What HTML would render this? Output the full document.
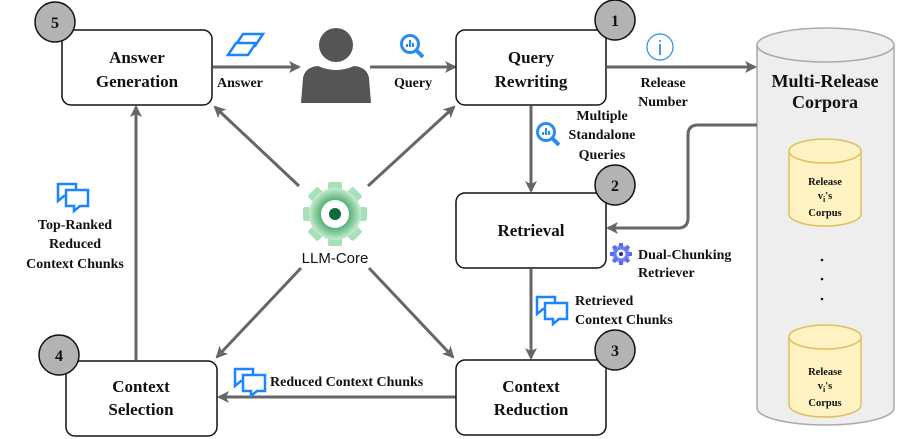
<!DOCTYPE html>
<html><head><meta charset="utf-8"><style>
html,body{margin:0;padding:0;background:#fff;}
svg{display:block;}
.b{font-family:"Liberation Serif",serif;font-weight:bold;fill:#111;}
</style></head><body>
<svg width="897" height="439" viewBox="0 0 897 439" xmlns="http://www.w3.org/2000/svg">
<defs>
<marker id="ah" markerWidth="12" markerHeight="12" refX="10" refY="6" orient="auto" markerUnits="userSpaceOnUse">
<path d="M0,0 L12,6 L0,12 L3,6 Z" fill="#666"/>
</marker>
<radialGradient id="gg" cx="50%" cy="50%" r="50%">
<stop offset="0.45" stop-color="#3fa665"/><stop offset="1" stop-color="#c8ecd3"/>
</radialGradient>
<radialGradient id="bg" cx="50%" cy="50%" r="50%">
<stop offset="0.4" stop-color="#3a4ee0"/><stop offset="1" stop-color="#b8c4ff"/>
</radialGradient>
<g id="chat" fill="none" stroke="#1a85ff" stroke-width="2.5">
<path d="M1,1 H19 V13 H7 L1,18 Z"/>
<path d="M9,7 H31 V23 H23 L17,28 V23 H9 Z" fill="#fff"/>
</g>
<g id="mag" fill="none" stroke="#2a8cf0" stroke-width="3">
<circle cx="10" cy="10" r="8.5"/><line x1="16" y1="16" x2="23" y2="23" stroke-width="4"/>
<line x1="7" y1="13" x2="7" y2="10" stroke-width="2"/><line x1="10" y1="13" x2="10" y2="6" stroke-width="2"/><line x1="13" y1="13" x2="13" y2="9" stroke-width="2"/>
</g>
</defs>

<!-- cylinder -->
<path d="M757,45 V408 A68.5,17 0 0 0 894,408 V45" fill="#eee" stroke="#aaa" stroke-width="1.5"/>
<ellipse cx="825.5" cy="45" rx="68.5" ry="17" fill="#eee" stroke="#aaa" stroke-width="1.5"/>
<text class="b" x="825" y="87" font-size="18" text-anchor="middle">Multi-Release</text>
<text class="b" x="825" y="108" font-size="18" text-anchor="middle">Corpora</text>
<g>
<path d="M789,151 V214 A36,12 0 0 0 861,214 V151" fill="#fff3c4" stroke="#e0bf5e" stroke-width="1.5"/>
<ellipse cx="825" cy="151" rx="36" ry="12" fill="#fff3c4" stroke="#e0bf5e" stroke-width="1.5"/>
<text class="b" x="825" y="185" font-size="10.5" text-anchor="middle">Release</text>
<text class="b" x="825" y="199" font-size="10.5" text-anchor="middle">v<tspan font-size="8" dy="3">i</tspan><tspan dy="-3">'s</tspan></text>
<text class="b" x="825" y="216" font-size="10.5" text-anchor="middle">Corpus</text>
</g>
<g>
<path d="M789,337 V405 A36,12 0 0 0 861,405 V337" fill="#fff3c4" stroke="#e0bf5e" stroke-width="1.5"/>
<ellipse cx="825" cy="337" rx="36" ry="12" fill="#fff3c4" stroke="#e0bf5e" stroke-width="1.5"/>
<text class="b" x="825" y="375" font-size="10.5" text-anchor="middle">Release</text>
<text class="b" x="825" y="389" font-size="10.5" text-anchor="middle">v<tspan font-size="8" dy="3">i</tspan><tspan dy="-3">'s</tspan></text>
<text class="b" x="825" y="406" font-size="10.5" text-anchor="middle">Corpus</text>
</g>
<circle cx="822" cy="260" r="1.3" fill="#111"/><circle cx="822" cy="279" r="1.3" fill="#111"/><circle cx="822" cy="299" r="1.3" fill="#111"/>

<!-- connectors -->
<g stroke="#666" stroke-width="3" fill="none" marker-end="url(#ah)">
<line x1="213" y1="67" x2="299" y2="67"/>
<line x1="370" y1="67" x2="455" y2="67"/>
<line x1="607" y1="67" x2="755" y2="67"/>
<line x1="531" y1="106" x2="531" y2="191"/>
<line x1="531" y1="269" x2="531" y2="358"/>
<line x1="456" y1="397" x2="219" y2="397"/>
<line x1="136" y1="360" x2="136" y2="107"/>
<path d="M757,125 H698 Q688,125 688,135 V218 Q688,228 678,228 H608"/>
<line x1="299" y1="186" x2="215" y2="107"/>
<line x1="368" y1="186" x2="454" y2="107"/>
<line x1="301" y1="268" x2="217" y2="357"/>
<line x1="369" y1="268" x2="453" y2="357"/>
</g>

<!-- boxes -->
<g fill="#fff" stroke="#111" stroke-width="1.5">
<rect x="62" y="30" width="150" height="75" rx="9"/>
<rect x="456" y="30" width="150" height="75" rx="9"/>
<rect x="456" y="193" width="150" height="75" rx="9"/>
<rect x="456" y="360" width="150" height="75" rx="9"/>
<rect x="66" y="361" width="151" height="75" rx="9"/>
</g>
<g class="b" font-size="17" text-anchor="middle">
<text x="137" y="63">Answer</text><text x="137" y="87">Generation</text>
<text x="531" y="63">Query</text><text x="531" y="87">Rewriting</text>
<text x="531" y="236">Retrieval</text>
<text x="531" y="392">Context</text><text x="531" y="415">Reduction</text>
<text x="141" y="392">Context</text><text x="141" y="415">Selection</text>
</g>

<!-- number circles -->
<g fill="#b3b3b3" stroke="#111" stroke-width="1.5">
<circle cx="55" cy="22" r="20"/><circle cx="615" cy="20" r="20"/><circle cx="615" cy="185" r="20"/>
<circle cx="615" cy="350" r="20"/><circle cx="59" cy="355" r="20"/>
</g>
<g class="b" font-size="16" text-anchor="middle">
<text x="55" y="28">5</text><text x="615" y="26">1</text><text x="615" y="191">2</text>
<text x="615" y="356">3</text><text x="59" y="361">4</text>
</g>

<!-- person -->
<circle cx="336" cy="45" r="17" fill="#555"/>
<path d="M301,103 L303,78 Q305,67 318,66 Q336,74 354,66 Q367,67 369,78 L371,103 Z" fill="#555"/>

<!-- icons -->
<g fill="none" stroke="#1a85ff" stroke-width="2.5">
<path d="M235,46 L243,34 H263 L255,46 Z"/>
<path d="M228,55 L236,43 H256 L248,55 Z" fill="#fff"/>
</g>
<use href="#mag" x="400" y="34"/>
<use href="#mag" x="536" y="122"/>
<circle cx="660" cy="47" r="13" fill="#fff" stroke="#2a8cf0" stroke-width="1.2"/>
<text x="660" y="55" font-family="Liberation Sans,sans-serif" font-size="20" fill="#2a8cf0" text-anchor="middle">i</text>
<use href="#chat" x="57" y="183"/>
<use href="#chat" x="536" y="296"/>
<use href="#chat" x="234" y="368"/>
<!-- blue gear -->
<g transform="translate(621,254)">
<circle r="9" fill="url(#bg)"/>
<g fill="#5a6cf0"><rect x="-2" y="-11" width="4" height="22"/><rect x="-11" y="-2" width="22" height="4"/>
<rect x="-2" y="-11" width="4" height="22" transform="rotate(45)"/><rect x="-2" y="-11" width="4" height="22" transform="rotate(-45)"/></g>
<circle r="7" fill="#6a7cf4"/><circle r="4.5" fill="#fff"/><circle r="2" fill="#1a2bb0"/>
</g>
<!-- green gear -->
<g transform="translate(335,214)">
<g fill="#a8e0b8">
<rect x="-7" y="-32" width="14" height="64" rx="2"/><rect x="-7" y="-32" width="14" height="64" rx="2" transform="rotate(45)"/>
<rect x="-7" y="-32" width="14" height="64" rx="2" transform="rotate(90)"/><rect x="-7" y="-32" width="14" height="64" rx="2" transform="rotate(135)"/>
</g>
<circle r="26" fill="url(#gg)"/>
<circle r="14" fill="#fff"/><circle r="6" fill="#0d6b39"/>
</g>
<text x="335" y="263" font-family="Liberation Sans,sans-serif" font-size="15" fill="#111" text-anchor="middle">LLM-Core</text>

<!-- labels -->
<g class="b" font-size="14">
<text x="217" y="87">Answer</text>
<text x="394" y="87">Query</text>
<text x="663" y="87" text-anchor="middle">Release</text>
<text x="663" y="106" text-anchor="middle">Number</text>
<text x="602" y="120" text-anchor="middle">Multiple</text>
<text x="602" y="139" text-anchor="middle">Standalone</text>
<text x="602" y="159" text-anchor="middle">Queries</text>
<text x="638" y="259">Dual-Chunking</text>
<text x="638" y="277">Retriever</text>
<text x="575" y="305">Retrieved</text>
<text x="575" y="324">Context Chunks</text>
<text x="270" y="386">Reduced Context Chunks</text>
<text x="75" y="229" text-anchor="middle">Top-Ranked</text>
<text x="75" y="248" text-anchor="middle">Reduced</text>
<text x="75" y="268" text-anchor="middle">Context Chunks</text>
</g>
</svg>
</body></html>
